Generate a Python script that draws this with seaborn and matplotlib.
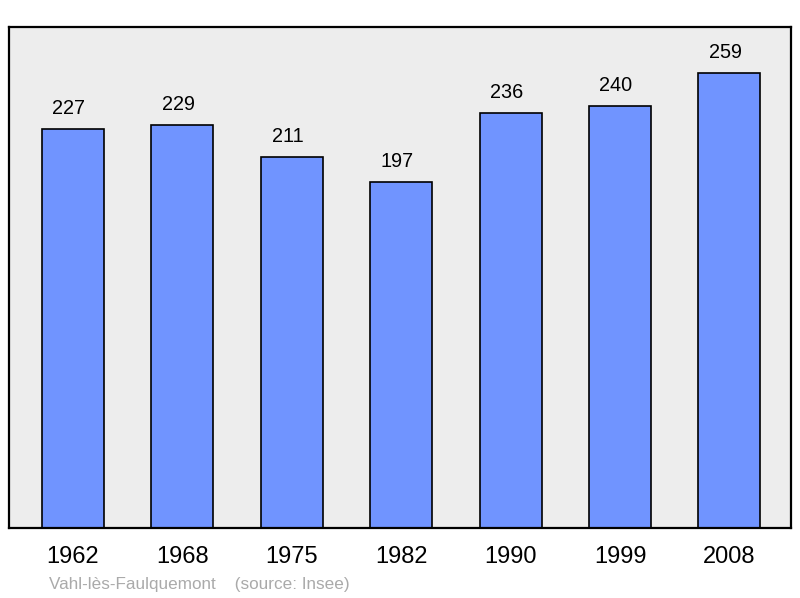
import matplotlib.pyplot as plt
import seaborn as sns
import pandas as pd

# Données
annees = ['1962', '1968', '1975', '1982', '1990', '1999', '2008']
population = [227, 229, 211, 197, 236, 240, 259]
commune = "Vahl-lès-Faulquemont"
source = "(source: Insee)"

df = pd.DataFrame({'annee': annees, 'pop': population})

sns.set_style("white")
plt.rcParams['font.family'] = ['Liberation Sans', 'DejaVu Sans']
plt.rcParams['text.color'] = 'black'
plt.rcParams['xtick.color'] = 'black'

fig = plt.figure(figsize=(8, 5.98), dpi=100)
ax = fig.add_axes([9 / 800, 70 / 598, 782 / 800, 501 / 598])
ax.set_facecolor('#ededed')

sns.barplot(data=df, x='annee', y='pop', color='#7094ff', saturation=1,
            width=0.567, edgecolor='black', linewidth=1.2, ax=ax)

ax.set_xlim(-0.585, 6.563)
ax.set_ylim(0, 285)
ax.set_xlabel('')
ax.set_ylabel('')
ax.set_yticks([])
ax.tick_params(axis='x', length=0, labelsize=17, pad=13, labelcolor='black')

for s in ax.spines.values():
    s.set_linewidth(1.6)
    s.set_color('black')

# Valeurs au-dessus des barres
for i, v in enumerate(population):
    ax.annotate(str(v), (i, v), xytext=(-3, 8), textcoords='offset points',
                ha='center', va='bottom', fontsize=14.3, color='black')

fig.text(49 / 800, 1 - 584 / 598, commune + "    " + source,
         fontsize=12.3, color='#aaaaaa', ha='left', va='center')

plt.savefig('out.png', dpi=100)
